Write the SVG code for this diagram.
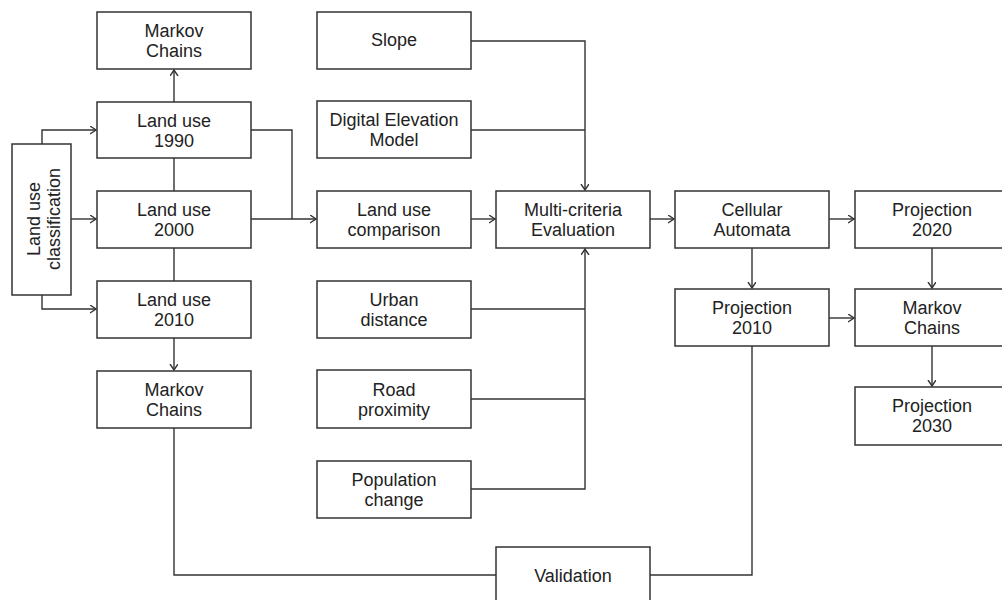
<svg xmlns="http://www.w3.org/2000/svg" width="1002" height="600" viewBox="0 0 1002 600">
<defs>
<style>
.box{fill:#fff;stroke:#333;stroke-width:1.5}
.t{font-family:"Liberation Sans",Arial,sans-serif;font-size:18px;fill:#222;text-anchor:middle}
.c{fill:none;stroke:#333;stroke-width:1.4}
</style>
<marker id="ah" markerUnits="userSpaceOnUse" markerWidth="10" markerHeight="10" refX="6" refY="4" orient="auto">
<path d="M0,0 L6,4 L0,8" fill="none" stroke="#333" stroke-width="1.4"/>
</marker>
</defs>
<rect width="1002" height="600" fill="#fff"/>
<g id="connectors">
<path class="c" d="M174,102 V70" marker-end="url(#ah)"/>
<path class="c" d="M174,158 V191"/>
<path class="c" d="M174,248 V281"/>
<path class="c" d="M174,338 V370" marker-end="url(#ah)"/>
<path class="c" d="M42,144 V130 H96" marker-end="url(#ah)"/>
<path class="c" d="M71,219 H96" marker-end="url(#ah)"/>
<path class="c" d="M42,295 V309 H96" marker-end="url(#ah)"/>
<path class="c" d="M251,130 H292 V219"/>
<path class="c" d="M251,219 H316" marker-end="url(#ah)"/>
<path class="c" d="M471,219 H495" marker-end="url(#ah)"/>
<path class="c" d="M471,41 H585 V190" marker-end="url(#ah)"/>
<path class="c" d="M471,130 H585"/>
<path class="c" d="M471,309 H585"/>
<path class="c" d="M471,399 H585"/>
<path class="c" d="M471,489 H585 V249" marker-end="url(#ah)"/>
<path class="c" d="M650,219 H674" marker-end="url(#ah)"/>
<path class="c" d="M829,219 H854" marker-end="url(#ah)"/>
<path class="c" d="M752,248 V288" marker-end="url(#ah)"/>
<path class="c" d="M829,318 H854" marker-end="url(#ah)"/>
<path class="c" d="M932,248 V288" marker-end="url(#ah)"/>
<path class="c" d="M932,346 V386" marker-end="url(#ah)"/>
<path class="c" d="M174,428 V575 H496"/>
<path class="c" d="M752,346 V575 H650"/>
</g>
<g id="markov1"><rect class="box" x="97" y="12" width="154" height="57"/><text class="t" x="174" y="37">Markov</text><text class="t" x="174" y="57">Chains</text></g>
<g id="landuse1990"><rect class="box" x="97" y="102" width="154" height="56"/><text class="t" x="174" y="127">Land use</text><text class="t" x="174" y="147">1990</text></g>
<g id="landuse2000"><rect class="box" x="97" y="191" width="154" height="57"/><text class="t" x="174" y="216">Land use</text><text class="t" x="174" y="236">2000</text></g>
<g id="landuse2010"><rect class="box" x="97" y="281" width="154" height="57"/><text class="t" x="174" y="306">Land use</text><text class="t" x="174" y="326">2010</text></g>
<g id="markov2"><rect class="box" x="97" y="371" width="154" height="57"/><text class="t" x="174" y="396">Markov</text><text class="t" x="174" y="416">Chains</text></g>
<g id="classification"><rect class="box" x="12" y="144" width="59" height="151"/><g transform="translate(41.5,219) rotate(-90)"><text class="t" x="0" y="-1.5">Land use</text><text class="t" x="0" y="18.5">classification</text></g></g>
<g id="slope"><rect class="box" x="317" y="12" width="154" height="57"/><text class="t" x="394" y="46">Slope</text></g>
<g id="dem"><rect class="box" x="317" y="101" width="154" height="57"/><text class="t" x="394" y="126">Digital Elevation</text><text class="t" x="394" y="146">Model</text></g>
<g id="comparison"><rect class="box" x="317" y="191" width="154" height="57"/><text class="t" x="394" y="216">Land use</text><text class="t" x="394" y="236">comparison</text></g>
<g id="urban"><rect class="box" x="317" y="281" width="154" height="57"/><text class="t" x="394" y="306">Urban</text><text class="t" x="394" y="326">distance</text></g>
<g id="road"><rect class="box" x="317" y="370" width="154" height="58"/><text class="t" x="394" y="396">Road</text><text class="t" x="394" y="416">proximity</text></g>
<g id="population"><rect class="box" x="317" y="461" width="154" height="57"/><text class="t" x="394" y="486">Population</text><text class="t" x="394" y="506">change</text></g>
<g id="mce"><rect class="box" x="496" y="191" width="154" height="57"/><text class="t" x="573" y="216">Multi-criteria</text><text class="t" x="573" y="236">Evaluation</text></g>
<g id="ca"><rect class="box" x="675" y="191" width="154" height="57"/><text class="t" x="752" y="216">Cellular</text><text class="t" x="752" y="236">Automata</text></g>
<g id="proj2010"><rect class="box" x="675" y="289" width="154" height="57"/><text class="t" x="752" y="314">Projection</text><text class="t" x="752" y="334">2010</text></g>
<g id="proj2020"><rect class="box" x="855" y="191" width="154" height="57"/><text class="t" x="932" y="216">Projection</text><text class="t" x="932" y="236">2020</text></g>
<g id="markov3"><rect class="box" x="855" y="289" width="154" height="57"/><text class="t" x="932" y="314">Markov</text><text class="t" x="932" y="334">Chains</text></g>
<g id="proj2030"><rect class="box" x="855" y="387" width="154" height="58"/><text class="t" x="932" y="412">Projection</text><text class="t" x="932" y="432">2030</text></g>
<g id="validation"><rect class="box" x="496" y="547" width="154" height="57"/><text class="t" x="573" y="582">Validation</text></g>
</svg>
